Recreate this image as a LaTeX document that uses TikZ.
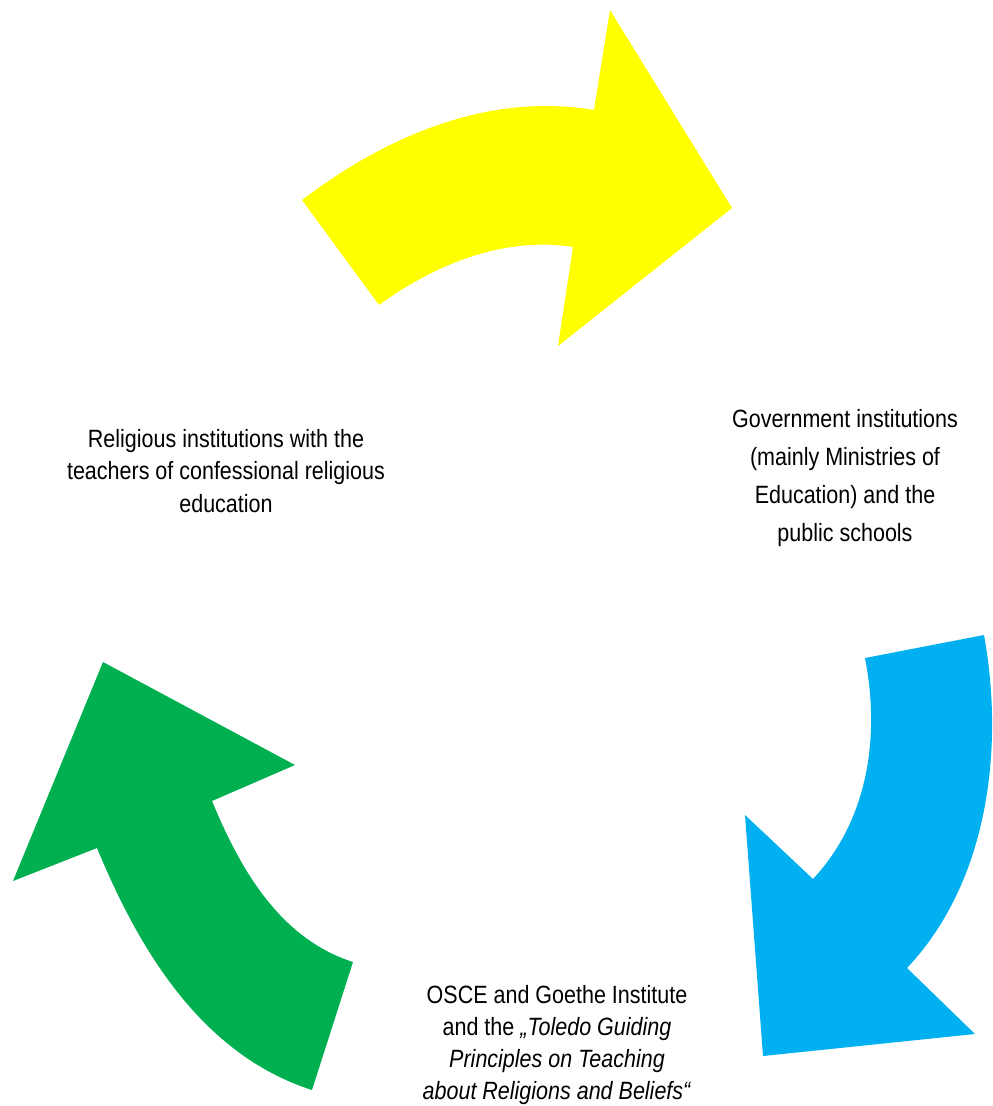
\documentclass[tikz,border=0pt]{standalone}
\usepackage{fontspec}
\setmainfont[FakeStretch=0.86]{Liberation Sans}
\usepackage{tikz}
\definecolor{arrowyellow}{HTML}{FFFF00}
\definecolor{arrowblue}{HTML}{00B0F0}
\definecolor{arrowgreen}{HTML}{00B050}
\tikzset{
  actor/.style={align=center,inner sep=0pt,font={\fontsize{25}{32.3}\selectfont}},
  bigarrow/.style={draw=none,fill=#1}
}

\begin{document}
\begin{tikzpicture}[x=1pt,y=-1pt]
\useasboundingbox (0,0) rectangle (993,1106);
\path[bigarrow=arrowyellow] (302,200) .. controls (385,137) and (487,92) .. (594,110) -- (610,10) -- (732,208) -- (558,346) -- (573,247) .. controls (503,236) and (434,265) .. (379,305) -- cycle;
\path[bigarrow=arrowblue] (984,635) .. controls (1004,745) and (990,880) .. (907,968) -- (975,1034) -- (763,1056) -- (745,815) -- (813,879) .. controls (869,819) and (880,735) .. (865,658) -- cycle;
\path[bigarrow=arrowgreen] (312,1090) .. controls (200,1054) and (138,947) .. (97,848) -- (13,881) -- (103,662) -- (295,765) -- (212,801) .. controls (239,866) and (278,938) .. (353,962) -- cycle;
\node[actor] (R) at (226,471) {Religious institutions with the\\teachers of confessional religious\\education};
\node[actor,font={\fontsize{25}{37.7}\selectfont}] (G) at (845,478) {Government institutions\\(mainly Ministries of\\Education) and the\\public schools};
\node[actor] (O) at (557,1045) {OSCE and Goethe Institute\\and the \textit{„Toledo Guiding}\\\textit{Principles on Teaching}\\\textit{about Religions and Beliefs“}};
\end{tikzpicture}
\end{document}
